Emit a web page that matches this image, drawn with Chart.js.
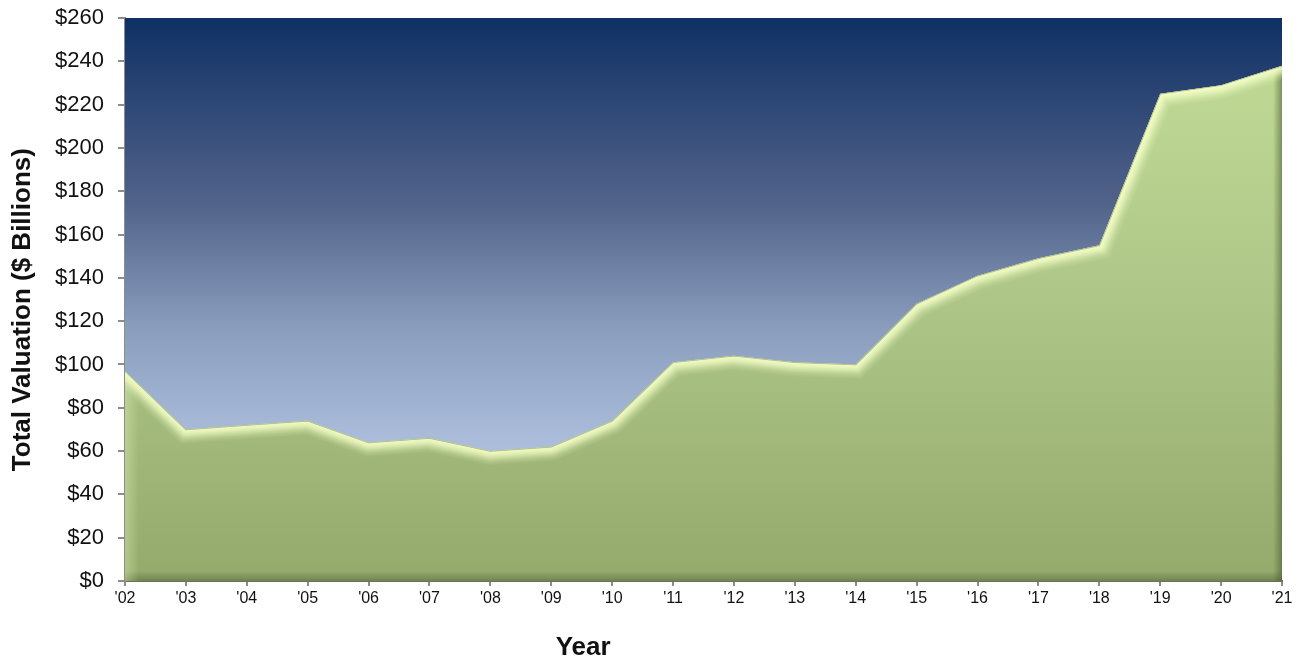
<!DOCTYPE html>
<html>
<head>
<meta charset="utf-8">
<title>Total Valuation</title>
<script src="https://cdn.jsdelivr.net/npm/chart.js@4"></script>
<style>
  html, body { margin: 0; padding: 0; background: #fff; }
</style>
</head>
<body>
<canvas id="myChart" width="1306" height="663"></canvas>
<script>
// data
const years = ["'02", "'03", "'04", "'05", "'06", "'07", "'08", "'09", "'10", "'11",
               "'12", "'13", "'14", "'15", "'16", "'17", "'18", "'19", "'20", "'21"];
const valuation = [97, 70, 72, 74, 64, 66, 60, 62, 74, 101,
                   104, 101, 100, 128, 141, 149, 155, 225, 229, 238];
const yMin = 0;
const yMax = 260;
const yStep = 20;

const FONT = "'Liberation Sans', Arial, sans-serif";

// navy-to-pale-blue backdrop behind the area
const plotBackground = {
  id: 'plotBackground',
  beforeDatasetsDraw(chart) {
    const { ctx, chartArea: a } = chart;
    const g = ctx.createLinearGradient(0, a.top, 0, a.bottom);
    g.addColorStop(0, '#0f3064');
    g.addColorStop(0.33, '#52638a');
    g.addColorStop(0.55, '#8a9dbd');
    g.addColorStop(0.74, '#a9bbd9');
    g.addColorStop(1, '#c0d2ee');
    ctx.save();
    ctx.fillStyle = g;
    ctx.fillRect(a.left, a.top, a.right - a.left, a.bottom - a.top);
    ctx.restore();
  }
};

// raised look on the area: pale rim along the top, darker rims right and bottom
const bevel = {
  id: 'bevel',
  afterDatasetsDraw(chart) {
    const { ctx, chartArea: a } = chart;
    const pts = chart.getDatasetMeta(0).data;
    const trace = () => {
      ctx.beginPath();
      pts.forEach((p, i) => i ? ctx.lineTo(p.x, p.y) : ctx.moveTo(p.x, p.y));
    };
    ctx.save();
    trace();
    ctx.lineTo(pts[pts.length - 1].x, a.bottom);
    ctx.lineTo(pts[0].x, a.bottom);
    ctx.closePath();
    ctx.clip();

    let g = ctx.createLinearGradient(0, a.bottom - 10, 0, a.bottom);
    g.addColorStop(0, 'rgba(70,85,45,0)');
    g.addColorStop(1, 'rgba(70,85,45,0.45)');
    ctx.fillStyle = g;
    ctx.fillRect(a.left, a.bottom - 10, a.right - a.left, 10);

    g = ctx.createLinearGradient(a.right - 9, 0, a.right, 0);
    g.addColorStop(0, 'rgba(70,85,45,0)');
    g.addColorStop(1, 'rgba(70,85,45,0.55)');
    ctx.fillStyle = g;
    ctx.fillRect(a.right - 9, a.top, 9, a.bottom - a.top);

    g = ctx.createLinearGradient(a.left, 0, a.left + 14, 0);
    g.addColorStop(0, 'rgba(235,250,190,0.35)');
    g.addColorStop(1, 'rgba(235,250,190,0)');
    ctx.fillStyle = g;
    ctx.fillRect(a.left, a.top, 14, a.bottom - a.top);

    ctx.lineJoin = 'miter';
    ctx.filter = 'blur(1.2px)';
    [[26, 0.18], [19, 0.32], [13, 0.5], [7, 0.6]].forEach(([w, al]) => {
      trace();
      ctx.lineWidth = w;
      ctx.strokeStyle = `rgba(246,255,200,${al})`;
      ctx.stroke();
    });
    ctx.filter = 'none';
    trace();
    ctx.lineWidth = 1.5;
    ctx.strokeStyle = 'rgba(105,125,70,0.5)';
    ctx.stroke();
    ctx.restore();
  }
};

// axis titles
const axisTitles = {
  id: 'axisTitles',
  afterDraw(chart) {
    const { ctx, chartArea: a } = chart;
    ctx.save();
    ctx.fillStyle = '#111';
    ctx.font = 'bold 26px ' + FONT;
    ctx.textAlign = 'center';
    ctx.textBaseline = 'middle';
    ctx.fillText('Year', a.left + (a.right - a.left) * 0.396, 648);
    ctx.translate(23, a.top + (a.bottom - a.top) * 0.518);
    ctx.rotate(-Math.PI / 2);
    ctx.fillText('Total Valuation ($ Billions)', 0, 0);
    ctx.restore();
  }
};

const ctx = document.getElementById('myChart').getContext('2d');

new Chart(ctx, {
  type: 'line',
  data: {
    labels: years,
    datasets: [{
      label: 'Total Valuation',
      data: valuation,
      fill: 'origin',
      tension: 0,
      borderWidth: 0,
      pointRadius: 0,
      backgroundColor: (context) => {
        const { ctx, chartArea } = context.chart;
        if (!chartArea) return '#a9c285';
        const g = ctx.createLinearGradient(0, chartArea.top, 0, chartArea.bottom);
        g.addColorStop(0, '#c3dd97');
        g.addColorStop(0.45, '#b0c98a');
        g.addColorStop(1, '#94aa6d');
        return g;
      }
    }]
  },
  options: {
    responsive: false,
    animation: false,
    layout: {
      padding: { top: 18, right: 24, left: 0, bottom: 0 }
    },
    plugins: {
      legend: { display: false },
      tooltip: { enabled: false }
    },
    scales: {
      x: {
        z: 1,
        offset: false,
        afterFit: (scale) => { scale.height = 82; },
        border: { display: true, color: '#6b7356', width: 2 },
        grid: {
          display: true,
          drawOnChartArea: false,
          drawTicks: true,
          tickLength: 5,
          color: '#8c8c8c',
          lineWidth: 2
        },
        ticks: {
          autoSkip: false,
          maxRotation: 0,
          padding: 3,
          color: '#111',
          font: { family: FONT, size: 16 }
        }
      },
      y: {
        z: 1,
        min: yMin,
        max: yMax,
        afterFit: (scale) => {
          scale.width = 125;
          scale.paddingTop = 0;
          scale.paddingBottom = 0;
        },
        border: { display: true, color: '#8c8c8c', width: 2 },
        grid: {
          display: true,
          drawOnChartArea: false,
          drawTicks: true,
          tickLength: 7,
          color: '#8c8c8c',
          lineWidth: 2
        },
        ticks: {
          stepSize: yStep,
          padding: 14,
          color: '#111',
          font: { family: FONT, size: 22 },
          callback: (v) => '$' + v
        }
      }
    }
  },
  plugins: [plotBackground, bevel, axisTitles]
});
</script>
</body>
</html>
